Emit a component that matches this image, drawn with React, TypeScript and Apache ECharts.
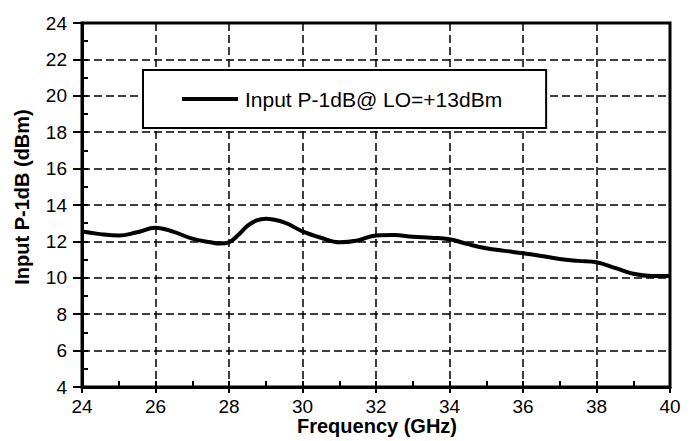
import React, { useEffect, useRef } from "react";
import * as echarts from "echarts";

const freqGHz = [24, 24.5, 25, 25.5, 26, 26.5, 27, 27.5, 27.75, 28, 28.25, 28.5, 28.75, 29, 29.5, 30, 30.5, 31, 31.5, 32, 32.5, 33, 33.5, 34, 34.5, 35, 35.5, 36, 36.5, 37, 37.5, 38, 38.5, 39, 39.5, 40];
const p1dB = [12.55, 12.4, 12.32, 12.5, 12.75, 12.52, 12.15, 11.95, 11.88, 11.95, 12.35, 12.85, 13.15, 13.25, 13.05, 12.55, 12.2, 11.95, 12.05, 12.33, 12.35, 12.25, 12.2, 12.12, 11.85, 11.62, 11.48, 11.35, 11.2, 11.03, 10.93, 10.85, 10.55, 10.22, 10.1, 10.1];
const seriesName = "Input P-1dB@ LO=+13dBm";
const xTitle = "Frequency (GHz)";
const yTitle = "Input P-1dB (dBm)";

const FONT = "Arial, 'Liberation Sans', sans-serif";

export default function App() {
  const ref = useRef<HTMLDivElement>(null);
  useEffect(() => {
    if (!ref.current) return;
    const chart = echarts.init(ref.current, undefined, { renderer: "svg" });
    const dash = { color: "#000", width: 1.5, type: [8, 4] as any };
    chart.setOption({
      animation: false,
      backgroundColor: "#fff",
      grid: {
        left: 82,
        top: 23,
        right: 27,
        bottom: 54,
        show: true,
        borderColor: "#000",
        borderWidth: 3,
        backgroundColor: "transparent",
      },
      legend: {
        left: 143,
        top: 70,
        orient: "horizontal",
        backgroundColor: "#fff",
        borderColor: "#000",
        borderWidth: 2,
        borderRadius: 0,
        padding: [18, 44, 18, 39],
        itemWidth: 56,
        itemHeight: 4,
        itemGap: 0,
        textStyle: { fontFamily: FONT, fontSize: 21, color: "#000", padding: [0, 0, 0, 2], lineHeight: 22 },
        data: [{ name: seriesName, icon: "rect", itemStyle: { color: "#000" } }],
      },
      xAxis: [
        {
          type: "value",
          min: 24,
          max: 40,
          interval: 2,
          position: "bottom",
          axisLine: { show: true, lineStyle: { color: "#000", width: 3 } },
          axisTick: { show: true, inside: false, length: 6, lineStyle: { color: "#000", width: 2 } },
          axisLabel: { fontFamily: FONT, fontSize: 19, color: "#000", margin: 10 },
          splitLine: { show: true, lineStyle: dash },
        },
        {
          type: "value",
          min: 24,
          max: 40,
          interval: 1,
          position: "bottom",
          axisLine: { show: false },
          axisTick: { show: true, inside: true, length: 6, lineStyle: { color: "#000", width: 2 } },
          axisLabel: { show: false },
          splitLine: { show: false },
        },
      ],
      yAxis: [
        {
          type: "value",
          min: 4,
          max: 24,
          interval: 2,
          position: "left",
          axisLine: { show: true, lineStyle: { color: "#000", width: 3 } },
          axisTick: { show: true, inside: false, length: 9, lineStyle: { color: "#000", width: 2 } },
          axisLabel: { fontFamily: FONT, fontSize: 19, color: "#000", margin: 15 },
          splitLine: { show: true, lineStyle: dash },
        },
        {
          type: "value",
          min: 4,
          max: 24,
          interval: 1,
          position: "left",
          axisLine: { show: false },
          axisTick: { show: true, inside: true, length: 6, lineStyle: { color: "#000", width: 2 } },
          axisLabel: { show: false },
          splitLine: { show: false },
        },
      ],
      graphic: [
        {
          type: "text",
          x: 377,
          y: 426,
          style: {
            text: xTitle,
            fontFamily: FONT,
            fontSize: 20,
            fontWeight: "bold",
            fill: "#000",
            textAlign: "center",
            textVerticalAlign: "middle",
          },
        },
        {
          type: "text",
          x: 22,
          y: 197,
          rotation: Math.PI / 2,
          style: {
            text: yTitle,
            fontFamily: FONT,
            fontSize: 20,
            fontWeight: "bold",
            fill: "#000",
            textAlign: "center",
            textVerticalAlign: "middle",
          },
        },
      ],
      series: [
        {
          name: seriesName,
          type: "line",
          xAxisIndex: 0,
          yAxisIndex: 0,
          smooth: 0.4,
          symbol: "none",
          lineStyle: { color: "#000", width: 4 },
          itemStyle: { color: "#000" },
          data: freqGHz.map((f, i) => [f, p1dB[i]]),
          z: 5,
        },
      ],
    });
    return () => chart.dispose();
  }, []);
  return (
    <div
      ref={ref}
      style={{ position: "fixed", left: 0, top: 0, width: 697, height: 441, background: "#fff" }}
    />
  );
}
